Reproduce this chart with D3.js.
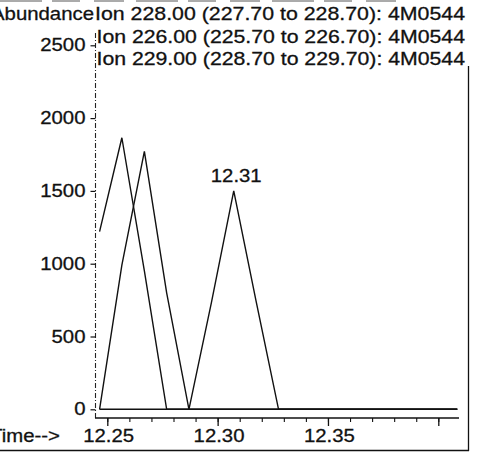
<!DOCTYPE html>
<html><head><meta charset="utf-8">
<script src="https://cdn.jsdelivr.net/npm/d3@7"></script>
<style>
html,body{margin:0;padding:0;background:#fff;}
svg{display:block;}
text{font-family:"Liberation Sans",Arial,sans-serif;fill:#111;stroke:#111;stroke-width:0.3px;}
</style></head>
<body>
<script>
// ---- data ----
const times = [12.2465,12.2566,12.2668,12.2769,12.2870,12.2972,12.3073,12.3174,12.3276,12.3377,12.3478,12.3579,12.3681,12.3782,12.3883,12.3985,12.4086];
const ion228 = [1220,1865,950,0,0,0,0,0,0,0,0,0,0,0,0,0,0];
const ion226 = [0,990,1772,800,0,0,0,0,0,0,0,0,0,0,0,0,0];
const ion229 = [0,0,0,0,0,735,1500,745,0,0,0,0,0,0,0,0,0];
const seriesLabels = ["Ion 228.00 (227.70 to 228.70): 4M0544","Ion 226.00 (225.70 to 226.70): 4M0544","Ion 229.00 (228.70 to 229.70): 4M0544"];
const yTicks = [0,500,1000,1500,2000,2500];
const xMajorTicks = [12.25,12.30,12.35,12.40];
const xLabelTicks = [12.25,12.30,12.35];
const xMinorTicks = [12.25,12.26,12.27,12.28,12.29,12.30,12.31,12.32,12.33,12.34,12.35,12.36,12.37,12.38,12.39,12.40,12.41];
const peakLabel = {t:12.3073, v:1500, text:"12.31"};

const W=498,H=460;
const svg=d3.select("body").append("svg").attr("width",W).attr("height",H);

const x=d3.scaleLinear().domain([12.25,12.40]).range([107.3,438.3]);
const y=d3.scaleLinear().domain([0,2500]).range([409.3,45.3]);

function stretch(sel,k){sel.each(function(){const l=this.getComputedTextLength();d3.select(this).attr("textLength",l*k).attr("lengthAdjust","spacingAndGlyphs");});}
const FS=18.5;

// frame
svg.append("line").attr("x1",0).attr("x2",469).attr("y1",450.5).attr("y2",450.5).attr("stroke","#111").attr("stroke-width",1.3);
svg.append("line").attr("x1",468.5).attr("x2",468.5).attr("y1",66).attr("y2",451).attr("stroke","#111").attr("stroke-width",1.3);
svg.append("line").attr("x1",0).attr("x2",400).attr("y1",1).attr("y2",1).attr("stroke","#444").attr("stroke-width",0.9).attr("stroke-dasharray","42,10,28,14,30,12");

// y axis
const yAxisX=95.5;
svg.append("line").attr("x1",yAxisX).attr("x2",yAxisX).attr("y1",33).attr("y2",418).attr("stroke","#222").attr("stroke-width",1.1).attr("stroke-dasharray","5,2,1,2");
const yg=svg.append("g").attr("transform",`translate(${yAxisX},0)`)
  .call(d3.axisLeft(y).tickValues(yTicks).tickSize(5).tickPadding(5).tickFormat(d3.format("d")));
yg.select(".domain").remove();
yg.selectAll(".tick line").attr("stroke","#111").attr("stroke-width",1.2);
yg.selectAll(".tick text").attr("font-size",FS).attr("dy","0.30em").attr("fill","#111").style("font-family",'"Liberation Sans",Arial,sans-serif').call(stretch,1.1);

// x axis
const xAxisY=418;
svg.append("line").attr("x1",95).attr("x2",459).attr("y1",xAxisY).attr("y2",xAxisY).attr("stroke","#111").attr("stroke-width",1.3);
const xgMinor=svg.append("g").attr("transform",`translate(0,${xAxisY})`)
  .call(d3.axisBottom(x).tickValues(xMinorTicks.filter(t=>x(t)<=459)).tickSize(4).tickFormat(""));
xgMinor.select(".domain").remove();
xgMinor.selectAll(".tick line").attr("stroke","#111").attr("stroke-width",1.1);
const xg=svg.append("g").attr("transform",`translate(0,${xAxisY})`)
  .call(d3.axisBottom(x).tickValues(xMajorTicks).tickSize(8).tickFormat(""));
xg.select(".domain").remove();
xg.selectAll(".tick line").attr("stroke","#111").attr("stroke-width",1.3);
svg.selectAll(".xl").data(xLabelTicks).enter().append("text").attr("class","xl")
  .attr("x",d=>x(d)+1.4).attr("y",441.7).attr("text-anchor","middle").attr("font-size",FS)
  .text(d=>d.toFixed(2)).call(stretch,1.1);
svg.append("text").attr("x",60).attr("y",441.7).attr("text-anchor","end").attr("font-size",FS).text("Time-->").call(stretch,1.1);

// series
const line=d3.line().x((d,i)=>x(times[i])).y(d=>y(d));
[ion228,ion226,ion229].forEach(s=>{
  svg.append("path").datum(s).attr("d",line).attr("fill","none").attr("stroke","#111").attr("stroke-width",1.4).attr("stroke-linejoin","miter");
});

// peak label
svg.append("text").attr("x",x(peakLabel.t)+2.5).attr("y",y(peakLabel.v)-8.5).attr("text-anchor","middle").attr("font-size",FS).text(peakLabel.text).call(stretch,1.1);

// header
svg.append("text").attr("x",94).attr("y",20).attr("text-anchor","end").attr("font-size",FS).text("Abundance").call(stretch,1.1);
const hdr=[20,42.8,65];
seriesLabels.forEach((s,i)=>{
  svg.append("text").attr("x",i===0?95:96.5).attr("y",hdr[i]).attr("font-size",FS).attr("textLength",i===0?370:368.5).attr("lengthAdjust","spacingAndGlyphs").text(s);
});
</script>
</body></html>
